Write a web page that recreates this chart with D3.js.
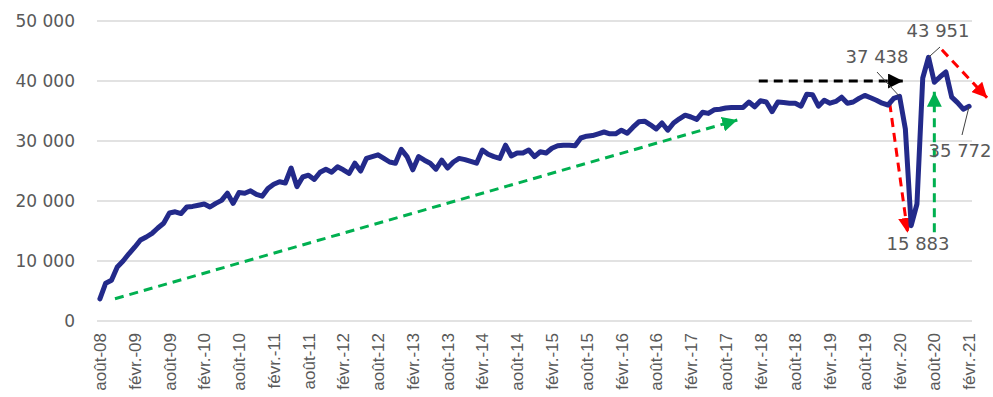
<!DOCTYPE html>
<html>
<head>
<meta charset="utf-8">
<script src="https://cdn.jsdelivr.net/npm/d3@7"></script>
<style>
  body { margin: 0; background: #fff; }
  svg { display: block; }
</style>
</head>
<body>
<svg id="chart"></svg>
<script>
// monthly series, août 2008 -> févr. 2021
const values = [
  3700, 6300, 6800, 9000, 10000, 11200, 12300, 13500, 14000, 14600,
  15500, 16300, 18000, 18200, 17900, 19000, 19100, 19300, 19500, 19000,
  19600, 20100, 21300, 19600, 21400, 21300, 21700, 21100, 20800, 22100,
  22800, 23200, 23000, 25500, 22400, 24000, 24300, 23600, 24800, 25300,
  24800, 25700, 25200, 24600, 26300, 25000, 27100, 27400, 27700, 27100,
  26500, 26300, 28600, 27400, 25200, 27400, 26800, 26300, 25300, 26800,
  25500, 26500, 27100, 26900, 26600, 26300, 28500, 27800, 27400, 27100,
  29300, 27500, 28000, 28000, 28500, 27400, 28200, 28000, 28800, 29200,
  29300, 29300, 29200, 30500, 30800, 30900, 31200, 31500, 31200, 31200,
  31800, 31300, 32300, 33200, 33300, 32700, 32000, 33000, 31800, 33000,
  33700, 34300, 34000, 33600, 34800, 34600, 35200, 35300, 35500, 35600,
  35600, 35600, 36500, 35700, 36700, 36500, 34900, 36500, 36400, 36300,
  36300, 35800, 37800, 37700, 35800, 36800, 36300, 36600, 37300, 36300,
  36500, 37100, 37600, 37200, 36800, 36300, 36000, 37100, 37438, 32000,
  15883, 19500, 40500, 43951, 39800, 40700, 41500, 37300, 36400, 35300,
  35772
];

const tickLabels = [
  "août-08", "févr.-09", "août-09", "févr.-10", "août-10", "févr.-11",
  "août-11", "févr.-12", "août-12", "févr.-13", "août-13", "févr.-14",
  "août-14", "févr.-15", "août-15", "févr.-16", "août-16", "févr.-17",
  "août-17", "févr.-18", "août-18", "févr.-19", "août-19", "févr.-20",
  "août-20", "févr.-21"
];
const tickStep = 6;

const yTicks = [0, 10000, 20000, 30000, 40000, 50000];

// labelled points (month index)
const labelled = [138, 140, 143, 150];

// trend arrows, in (month index, value)
const arrows = [
  {from: [2.6, 3700],   to: [110, 33500], color: "#00b050"},
  {from: [113.7, 40000], to: [138.6, 40000], color: "#000000"},
  {from: [136.3, 36300], to: [139.4, 14700], color: "#ff0000"},
  {from: [144, 14800],  to: [144, 38200], color: "#00b050"},
  {from: [145.3, 45200], to: [153.1, 37200], color: "#ff0000"}
];

const width = 993, height = 397;
const svg = d3.select("#chart").attr("width", width).attr("height", height);

const fr = d3.formatLocale({decimal: ",", thousands: " ", grouping: [3], currency: ["", " €"]});
const fmt = fr.format(",");

const x = d3.scalePoint()
  .domain(d3.range(values.length))
  .range([97, 972])
  .padding(0.5);

const y = d3.scaleLinear()
  .domain([0, 50000])
  .range([321, 21]);

// gridlines
svg.append("g")
  .selectAll("line")
  .data(yTicks)
  .join("line")
  .attr("x1", 97).attr("x2", 972)
  .attr("y1", d => y(d)).attr("y2", d => y(d))
  .attr("stroke", "#d9d9d9")
  .attr("stroke-width", 1.5);

// y axis labels
svg.append("g")
  .selectAll("text")
  .data(yTicks)
  .join("text")
  .attr("x", 75)
  .attr("y", d => y(d))
  .attr("dy", "0.36em")
  .attr("text-anchor", "end")
  .attr("font-family", "DejaVu Sans")
  .attr("font-size", 17)
  .attr("fill", "#595959")
  .text(d => fmt(d));

// x axis labels
svg.append("g")
  .selectAll("text")
  .data(tickLabels)
  .join("text")
  .attr("transform", (d, k) => `translate(${x(k * tickStep)},333) rotate(-90)`)
  .attr("dy", "0.36em")
  .attr("text-anchor", "end")
  .attr("font-family", "Liberation Sans")
  .attr("font-size", 17)
  .attr("fill", "#595959")
  .text(d => d);

// arrows
const defs = svg.append("defs");
arrows.forEach((a, k) => {
  defs.append("marker")
    .attr("id", "head" + k)
    .attr("viewBox", "0 0 10 10")
    .attr("refX", 10).attr("refY", 5)
    .attr("markerWidth", 5).attr("markerHeight", 5)
    .attr("markerUnits", "strokeWidth")
    .attr("orient", "auto")
    .append("path")
    .attr("d", "M0,0L10,5L0,10Z")
    .attr("fill", a.color);
});

svg.append("g")
  .selectAll("line")
  .data(arrows)
  .join("line")
  .attr("x1", d => x(0) + d.from[0] * x.step())
  .attr("y1", d => y(d.from[1]))
  .attr("x2", d => x(0) + d.to[0] * x.step())
  .attr("y2", d => y(d.to[1]))
  .attr("stroke", d => d.color)
  .attr("stroke-width", 3)
  .attr("stroke-dasharray", "9,6")
  .attr("marker-end", (d, k) => `url(#head${k})`);

// series
const line = d3.line()
  .x((d, i) => x(i))
  .y(d => y(d));

svg.append("path")
  .datum(values)
  .attr("d", line)
  .attr("fill", "none")
  .attr("stroke", "#232a8a")
  .attr("stroke-width", 5)
  .attr("stroke-linejoin", "round")
  .attr("stroke-linecap", "round");

// data labels with leader lines
const labelPos = {
  138: {lx: 877, ly: 63, leader: [877, 72]},
  140: {lx: 918, ly: 250, leader: null},
  143: {lx: 938, ly: 37, leader: [940, 47]},
  150: {lx: 960, ly: 157, leader: [962, 135]}
};

const lab = svg.append("g");
labelled.forEach(i => {
  const p = labelPos[i];
  if (p.leader) {
    lab.append("line")
      .attr("x1", p.leader[0]).attr("y1", p.leader[1])
      .attr("x2", x(i)).attr("y2", y(values[i]))
      .attr("stroke", "#404040")
      .attr("stroke-width", 1);
  }
  lab.append("text")
    .attr("x", p.lx).attr("y", p.ly)
    .attr("text-anchor", "middle")
    .attr("font-family", "DejaVu Sans")
    .attr("font-size", 18)
    .attr("fill", "#595959")
    .text(fmt(values[i]));
});
</script>
</body>
</html>
